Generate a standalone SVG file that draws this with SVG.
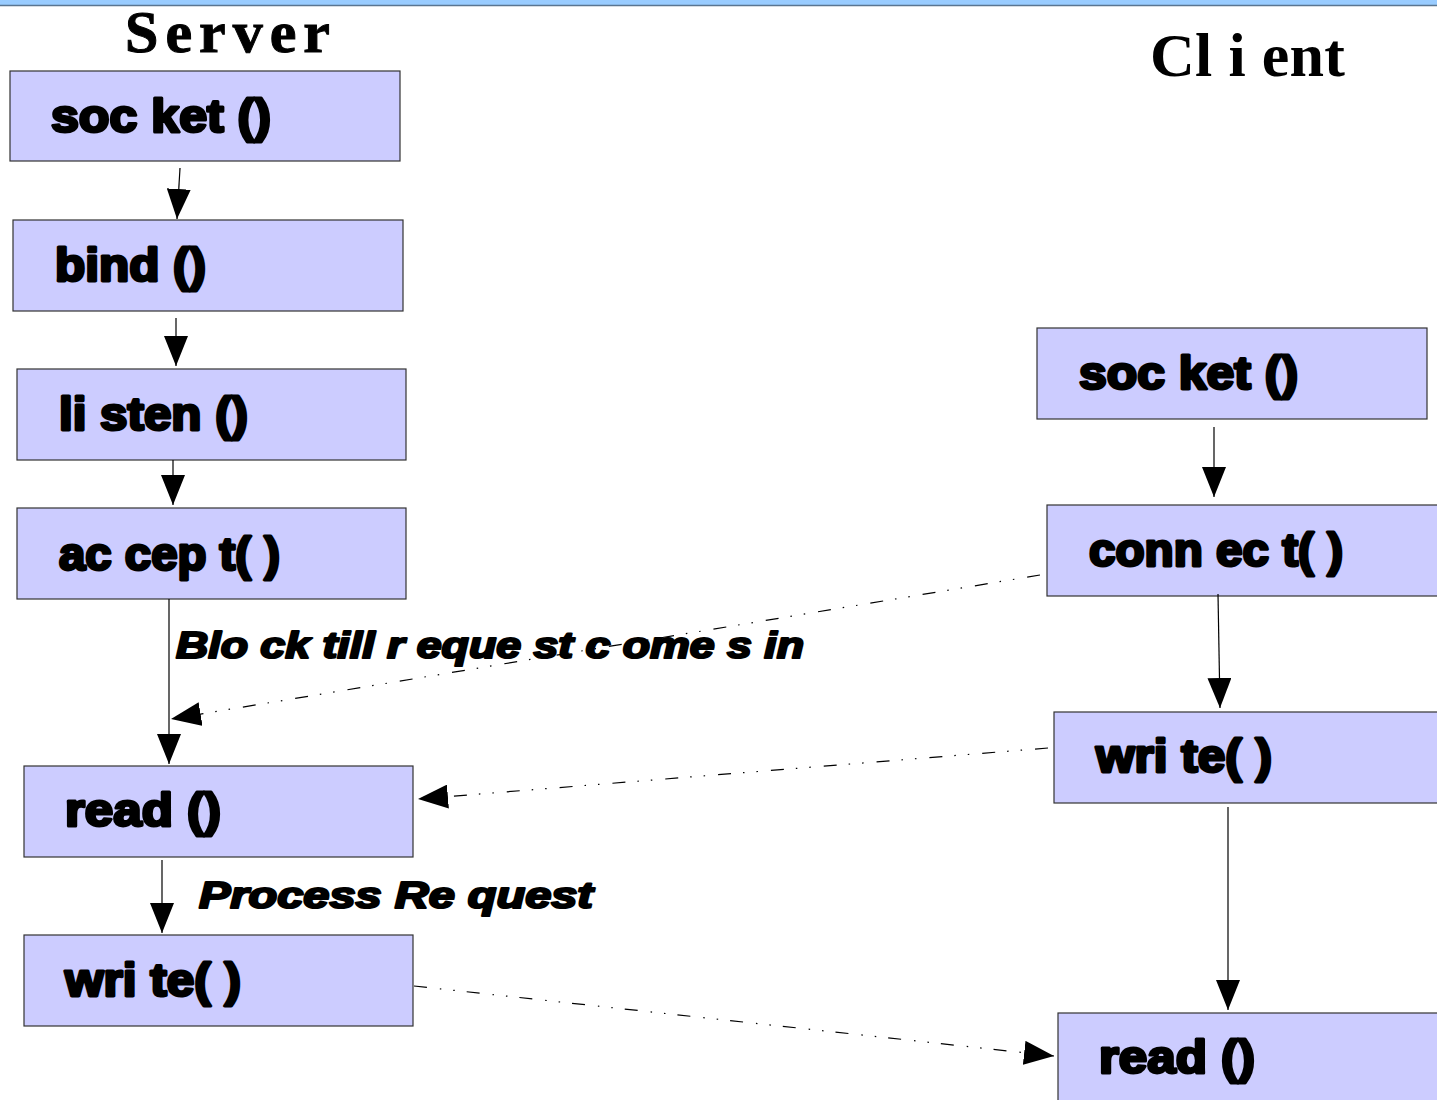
<svg xmlns="http://www.w3.org/2000/svg" width="1437" height="1100" viewBox="0 0 1437 1100">
<defs>
<style>
.node rect{fill:#ccccff;stroke:#333333;stroke-width:1.2}
.node text{font-family:"Liberation Sans",Arial,sans-serif;font-weight:bold;font-size:46px;fill:#000;stroke:#000;stroke-width:3;stroke-linejoin:round}
.title{font-family:"Liberation Serif","Times New Roman",serif;font-weight:bold;fill:#000}
.lbl{font-family:"Liberation Sans",Arial,sans-serif;font-weight:bold;font-style:italic;font-size:36px;fill:#000;stroke:#000;stroke-width:2.2;stroke-linejoin:round}
.solid{stroke:#000;stroke-width:1.2;fill:none}
.dash{stroke:#000;stroke-width:1.2;fill:none;stroke-dasharray:13 13 1.5 12 1.5 12}
</style>
<marker id="ah" markerUnits="userSpaceOnUse" markerWidth="32" markerHeight="24" refX="30" refY="12" orient="auto">
<path d="M0,0 L30,12 L0,24 Z" fill="#000"/>
</marker>
</defs>
<rect x="0" y="0" width="1437" height="5" fill="#99ccff"/>
<line x1="0" y1="5.5" x2="1437" y2="5.5" stroke="#5a7590" stroke-width="1.5"/>
<text class="title" x="125" y="52" font-size="60" font-weight="normal" stroke="#000" stroke-width="1" textLength="205" lengthAdjust="spacing">Server</text>
<text class="title" x="1150" y="76" font-size="62" textLength="195" lengthAdjust="spacing">Cl i ent</text>

<g id="s_socket" class="node"><rect x="10" y="71" width="390" height="90"/><text x="51" y="132" textLength="220" lengthAdjust="spacingAndGlyphs">soc ket ()</text></g>
<g id="s_bind" class="node"><rect x="13" y="220" width="390" height="91"/><text x="55" y="281" textLength="151" lengthAdjust="spacingAndGlyphs">bind ()</text></g>
<g id="s_listen" class="node"><rect x="17" y="369" width="389" height="91"/><text x="59" y="430" textLength="189" lengthAdjust="spacingAndGlyphs">li sten  ()</text></g>
<g id="s_accept" class="node"><rect x="17" y="508" width="389" height="91"/><text x="59" y="570" textLength="221" lengthAdjust="spacingAndGlyphs">ac cep t( )</text></g>
<g id="s_read" class="node"><rect x="24" y="766" width="389" height="91"/><text x="65" y="826" textLength="156" lengthAdjust="spacingAndGlyphs">read ()</text></g>
<g id="s_write" class="node"><rect x="24" y="935" width="389" height="91"/><text x="65" y="996" textLength="176" lengthAdjust="spacingAndGlyphs">wri te( )</text></g>

<g id="c_socket" class="node"><rect x="1037" y="328" width="390" height="91"/><text x="1079" y="389" textLength="219" lengthAdjust="spacingAndGlyphs">soc ket ()</text></g>
<g id="c_connect" class="node"><rect x="1047" y="505" width="400" height="91"/><text x="1089" y="566" textLength="254" lengthAdjust="spacingAndGlyphs">conn ec t( )</text></g>
<g id="c_write" class="node"><rect x="1054" y="712" width="400" height="91"/><text x="1096" y="772" textLength="176" lengthAdjust="spacingAndGlyphs">wri te( )</text></g>
<g id="c_read" class="node"><rect x="1058" y="1013" width="400" height="100"/><text x="1099" y="1073" textLength="156" lengthAdjust="spacingAndGlyphs">read ()</text></g>

<g id="labels">
<text class="lbl" x="176" y="658" textLength="628" lengthAdjust="spacingAndGlyphs">Blo ck  till r   eque st c ome s in</text>
<text class="lbl" x="199" y="908" textLength="394" lengthAdjust="spacingAndGlyphs">Process   Re quest</text>
</g>

<g id="connectors">
<line class="solid" x1="180" y1="168" x2="177" y2="219" marker-end="url(#ah)"/>
<line class="solid" x1="176" y1="318" x2="176" y2="366" marker-end="url(#ah)"/>
<line class="solid" x1="173" y1="460" x2="173" y2="505" marker-end="url(#ah)"/>
<line class="solid" x1="169" y1="599" x2="169" y2="764" marker-end="url(#ah)"/>
<line class="solid" x1="162" y1="860" x2="162" y2="933" marker-end="url(#ah)"/>
<line class="solid" x1="1214" y1="427" x2="1214" y2="497" marker-end="url(#ah)"/>
<line class="solid" x1="1218" y1="594" x2="1220" y2="708" marker-end="url(#ah)"/>
<line class="solid" x1="1228" y1="807" x2="1228" y2="1010" marker-end="url(#ah)"/>
<line class="dash" x1="1040" y1="575" x2="171" y2="719" marker-end="url(#ah)"/>
<line class="dash" x1="1048" y1="748" x2="418" y2="799" marker-end="url(#ah)"/>
<line class="dash" x1="414" y1="986" x2="1054" y2="1056" marker-end="url(#ah)"/>
</g>
</svg>
